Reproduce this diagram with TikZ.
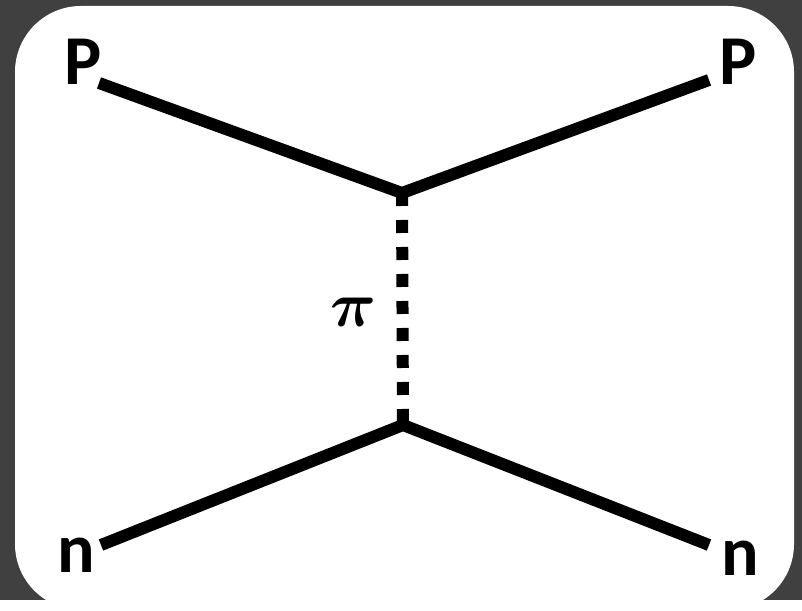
\documentclass[tikz,border=0pt]{standalone}
\usepackage{fontspec}
\setmainfont{Carlito}
\usepackage{amsmath,bm}
\usetikzlibrary{positioning}

\begin{document}
\begin{tikzpicture}[x=1pt,y=1pt,
  particle/.style={font=\fontsize{70}{70}\selectfont\bfseries, inner sep=0pt},
  fermion/.style={line width=12pt},
  pion/.style={line width=12pt, dash pattern=on 13pt off 14pt}]
% frame
\fill [black!75] (0,0) rectangle (802,600);
\fill [white, rounded corners=66pt] (15,-10) rectangle (794,594);
\useasboundingbox (0,0) rectangle (802,600);
% vertices and line ends
\coordinate (vtop) at (402,407);
\coordinate (vbot) at (403,175);
\coordinate (pinl) at (99,517);
\coordinate (pout) at (709,520);
\coordinate (ninl) at (101,55);
\coordinate (nout) at (709,55);
\begin{scope}[every node/.style={particle}]
\node (pa) at (83,538) {P};
\node (pb) at (738,538) {P};
\node (na) at (76,45) {n};
\node (nb) at (740,42) {n};
\end{scope}
\node [inner sep=0pt] (pi) at (354,288) {\scalebox{6.4}{$\bm{\pi}$}};
\draw [fermion] (pinl) -- (vtop) -- (pout);
\draw [fermion] (ninl) -- (vbot) -- (nout);
\draw [pion] (vtop) -- (vbot);
\end{tikzpicture}
\end{document}
